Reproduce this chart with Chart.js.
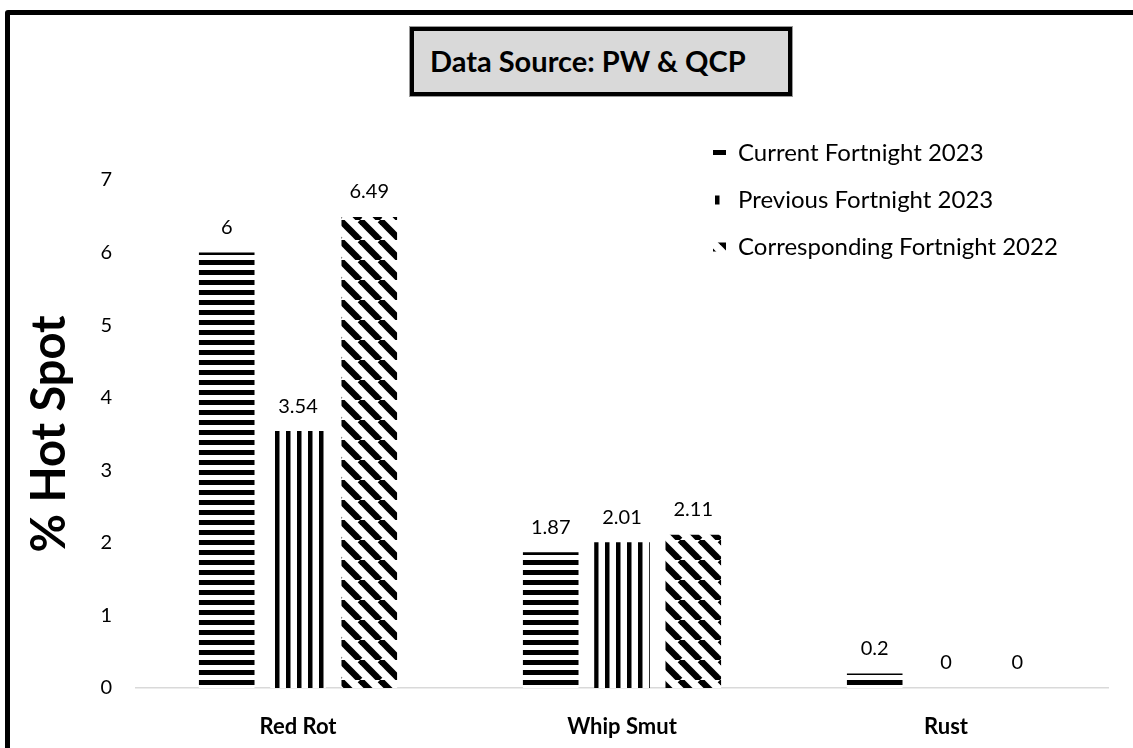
<!DOCTYPE html>
<html><head><meta charset="utf-8">
<script src="https://cdn.jsdelivr.net/npm/chart.js@4.4.0/dist/chart.umd.min.js"></script>
<style>
html,body{margin:0;padding:0;background:#fff;overflow:hidden;width:1133px;height:748px;}
#frame{position:absolute;left:5px;top:10px;width:1200px;height:800px;border:5px solid #000;box-sizing:border-box;border-radius:3px;}
#wrap{position:absolute;left:0;top:0;width:1133px;height:748px;}
#titlebox{position:absolute;left:410px;top:27px;width:382px;height:69px;box-sizing:border-box;background:#d9d9d9;border:4px solid #000;outline:1px solid #999;font-family:Lato,sans-serif;font-weight:bold;font-size:29px;color:#000;display:flex;align-items:center;justify-content:flex-start;padding-left:16px;padding-bottom:2px;}
</style></head><body>
<div id="frame"></div>
<div id="wrap"><canvas id="c" width="1133" height="748"></canvas></div>
<div id="titlebox">Data Source: PW &amp; QCP</div>
<script>
const categories = ['Red Rot', 'Whip Smut', 'Rust'];
const seriesNames = ['Current Fortnight 2023', 'Previous Fortnight 2023', 'Corresponding Fortnight 2022'];
const currentFortnight2023 = [6, 1.87, 0.2];
const previousFortnight2023 = [3.54, 2.01, 0];
const correspondingFortnight2022 = [6.49, 2.11, 0];
const yTickMin = 0, yTickMax = 7, yTickStep = 1;
const yAxisTitle = '% Hot Spot';

function makePattern(kind) {
  const c = document.createElement('canvas');
  const ctx = c.getContext('2d');
  if (kind === 'h') {
    c.width = 10; c.height = 10;
    ctx.fillStyle = '#fff'; ctx.fillRect(0, 0, 10, 10);
    ctx.fillStyle = '#000'; ctx.fillRect(0, 0, 10, 5);
  } else if (kind === 'v') {
    c.width = 11; c.height = 11;
    ctx.fillStyle = '#fff'; ctx.fillRect(0, 0, 11, 11);
    ctx.fillStyle = '#000'; ctx.fillRect(0, 0, 4.5, 11);
  } else {
    const s = 20;
    c.width = s; c.height = s;
    ctx.fillStyle = '#fff'; ctx.fillRect(0, 0, s, s);
    ctx.strokeStyle = '#000'; ctx.lineWidth = 6.5;
    for (const k of [-s, 0, s]) {
      ctx.beginPath(); ctx.moveTo(k, 0); ctx.lineTo(k + s, s); ctx.stroke();
    }
  }
  return document.createElement('canvas').getContext('2d').createPattern(c, 'repeat');
}

const patterns = [makePattern('h'), makePattern('v'), makePattern('d')];
const seriesData = [currentFortnight2023, previousFortnight2023, correspondingFortnight2022];

const dataLabels = {
  id: 'dataLabels',
  afterDatasetsDraw(chart) {
    const ctx = chart.ctx;
    ctx.save();
    ctx.font = '20px Lato';
    ctx.fillStyle = '#000';
    ctx.textAlign = 'center';
    ctx.textBaseline = 'middle';
    chart.data.datasets.forEach((ds, i) => {
      const meta = chart.getDatasetMeta(i);
      meta.data.forEach((bar, j) => {
        ctx.fillText(String(ds.data[j]), bar.x, bar.y - 25);
      });
    });
    ctx.restore();
  }
};

const placeLegend = {
  id: 'placeLegend',
  afterLayout(chart) {
    const lg = chart.legend;
    const w = lg.width, h = lg.height;
    lg.left = 690; lg.top = 118;
    lg.right = lg.left + w; lg.bottom = lg.top + h;
  }
};

new Chart(document.getElementById('c'), {
  type: 'bar',
  data: {
    labels: categories,
    datasets: seriesNames.map((name, i) => ({
      label: name,
      data: seriesData[i],
      backgroundColor: patterns[i],
      borderWidth: 0,
      categoryPercentage: 0.66,
      barPercentage: 0.78
    }))
  },
  options: {
    responsive: false,
    animation: false,
    devicePixelRatio: 1,
    layout: { padding: { left: 10, right: 25, top: 180, bottom: 0 } },
    plugins: {
      legend: {
        position: 'chartArea',
        align: 'start',
        labels: {
          font: { family: 'Lato', size: 24 },
          color: '#000',
          boxWidth: 13,
          boxHeight: 9,
          padding: 23
        }
      },
      title: { display: false },
      tooltip: { enabled: false }
    },
    scales: {
      x: {
        grid: { display: false, drawTicks: false },
        border: { display: true, color: '#d9d9d9', width: 1.5 },
        ticks: { font: { family: 'Lato', size: 22, weight: 'bold' }, color: '#000', padding: 26 },
        afterFit(scale) { scale.height = 60; }
      },
      y: {
        min: yTickMin, max: yTickMax,
        grid: { display: false, drawTicks: false },
        border: { display: false },
        ticks: { stepSize: yTickStep, font: { family: 'Lato', size: 20 }, color: '#000', padding: 24 },
        title: { display: true, text: yAxisTitle, font: { family: 'Lato', size: 47, weight: 'bold' }, color: '#000', padding: { top: 12, bottom: 0 } },
        afterFit(scale) { scale.width = 126; }
      }
    }
  },
  plugins: [dataLabels, placeLegend]
});
</script>
</body></html>
